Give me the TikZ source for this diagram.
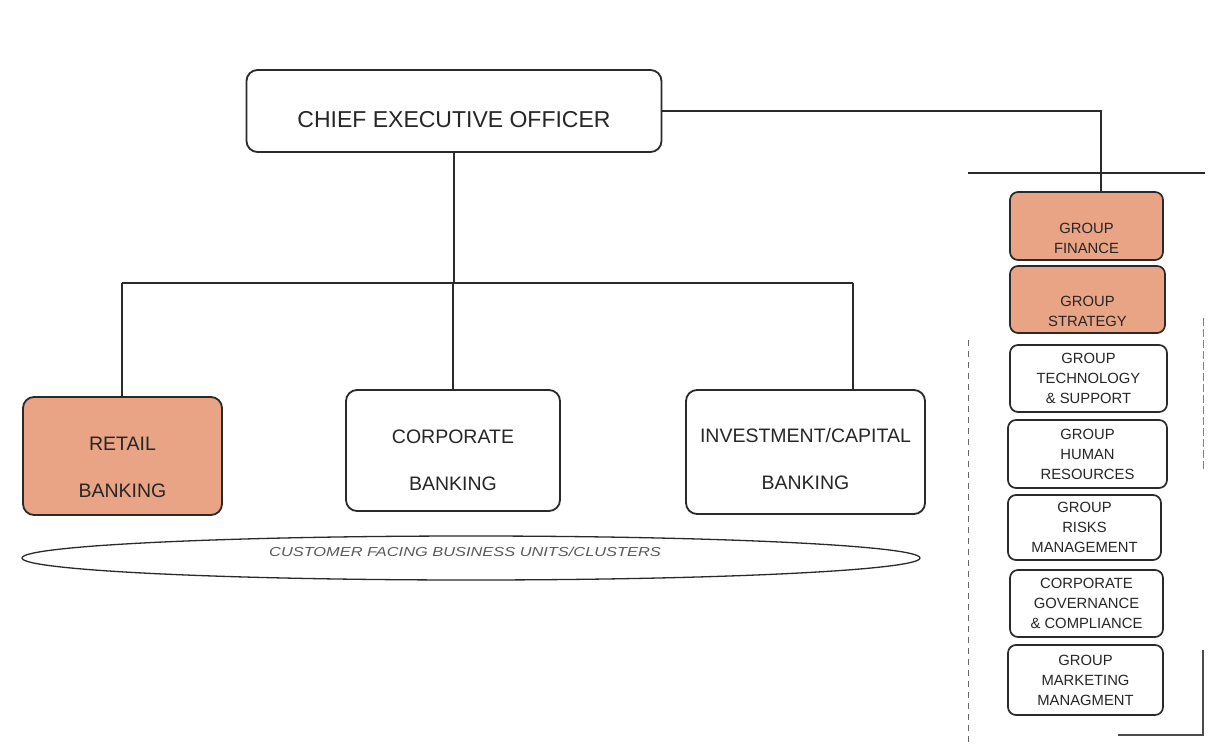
\documentclass[tikz,border=0pt]{standalone}
\usepackage{fontspec}
\setmainfont{Liberation Sans}
\usetikzlibrary{shapes.geometric}
\definecolor{salmon}{HTML}{E9A385}
\definecolor{ink}{HTML}{2A2A2A}
\definecolor{txt}{HTML}{262626}
\begin{document}
\begin{tikzpicture}[x=1pt,y=-1pt,
  conn/.style={draw=ink,line width=1.7pt},
  unitbox/.style={draw=ink,line width=1.8pt,rounded corners=11pt,fill=white,inner sep=0pt},
  unittext/.style={align=center,text=txt,inner sep=0pt,font=\fontsize{19.5}{47}\selectfont},
  staffbox/.style={draw=ink,line width=1.7pt,rounded corners=8pt,fill=white,
    inner sep=0pt,align=center,text=txt,font=\fontsize{14.8}{20}\selectfont},
  stafftext/.style={align=center,text=txt,inner sep=0pt,font=\fontsize{14.8}{20}\selectfont},
  hot/.style={fill=salmon}]
\useasboundingbox (0,0) rectangle (1226,749);
\fill[white] (0,0) rectangle (1226,749);

% executive
\node[unitbox,minimum width=415pt,minimum height=82pt,
  label={[unittext,font=\fontsize{23}{26}\selectfont,yshift=-9pt]center:CHIEF EXECUTIVE OFFICER}]
  (ceo) at (454,111) {};

% business units
\node[unitbox,hot,minimum width=199pt,minimum height=118pt,
  label={[unittext,yshift=-11pt]center:RETAIL\\BANKING}] (retail) at (122.5,456) {};
\node[unitbox,minimum width=214pt,minimum height=121pt,
  label={[unittext,yshift=-10pt]center:CORPORATE\\BANKING}] (corp) at (453,450.5) {};
\node[unitbox,minimum width=239pt,minimum height=124pt,
  label={[unittext,yshift=-7pt]center:INVESTMENT/CAPITAL\\BANKING}] (inv) at (805.5,452) {};

\node[ellipse,draw=ink,line width=1.3pt,minimum width=898pt,minimum height=44pt,inner sep=0pt,
  label={[text=black!65,font=\fontsize{13}{14}\itshape\selectfont,xshift=-6pt,yshift=6pt]center:%
    \scalebox{1.26}[1]{CUSTOMER FACING BUSINESS UNITS/CLUSTERS}}] (cfbu) at (471,558) {};

% group functions
\node[staffbox,hot,minimum width=153pt,minimum height=68pt,
  label={[stafftext,yshift=-12pt]center:GROUP\\FINANCE}] (fin) at (1086.5,226) {};
\node[staffbox,hot,minimum width=155pt,minimum height=67pt,
  label={[stafftext,yshift=-12pt]center:GROUP\\STRATEGY}] (strat) at (1087.5,299.5) {};
\node[staffbox,minimum width=157pt,minimum height=67pt] (tech) at (1088.5,378.5) {GROUP\\TECHNOLOGY\\\& SUPPORT};
\node[staffbox,minimum width=159pt,minimum height=68pt] (hr) at (1087.5,454) {GROUP\\HUMAN\\RESOURCES};
\node[staffbox,minimum width=153pt,minimum height=65pt] (risk) at (1084.5,527.5) {GROUP\\RISKS\\MANAGEMENT};
\node[staffbox,minimum width=153pt,minimum height=67pt] (gov) at (1086.5,603.5) {CORPORATE\\GOVERNANCE\\\& COMPLIANCE};
\node[staffbox,minimum width=155pt,minimum height=70pt] (mkt) at (1085.5,680) {GROUP\\MARKETING\\MANAGMENT};

% reporting lines
\coordinate (busL) at (122,283);
\coordinate (busR) at (853,283);
\coordinate (drop) at (1101,111);
\draw[conn] (busL) -- (busR);
\draw[conn] (ceo.south) -- (ceo.south |- busL);
\draw[conn] (busL) -- (busL |- retail.north);
\draw[conn] (corp.north) -- (corp.north |- busL);
\draw[conn] (busR) -- (busR |- inv.north);
\draw[conn,line width=1.2pt] (ceo.east) -- (ceo.east -| drop) -- (drop |- fin.north);

% staff bracket
\coordinate (stL) at (968,173);
\coordinate (stR) at (1205,173);
\draw[ink,line width=1.1pt] (stL) -- (stR);
\coordinate (dashTop) at (968,340);
\coordinate (dashBot) at (968,745);
\draw[black!60,line width=1pt,dash pattern=on 6pt off 5pt] (dashTop) -- (dashBot);
\coordinate (rTop) at (1203,318);
\coordinate (rMid) at (1203,470);
\coordinate (rLow) at (1203,650);
\coordinate (rCorner) at (1203,735);
\coordinate (rEnd) at (1118,735);
\draw[black!50,line width=1pt,dash pattern=on 8pt off 3pt] (rTop) -- (rMid);
\draw[black!70,line width=1.1pt] (rLow) -- (rCorner) -- (rEnd);
\end{tikzpicture}
\end{document}
